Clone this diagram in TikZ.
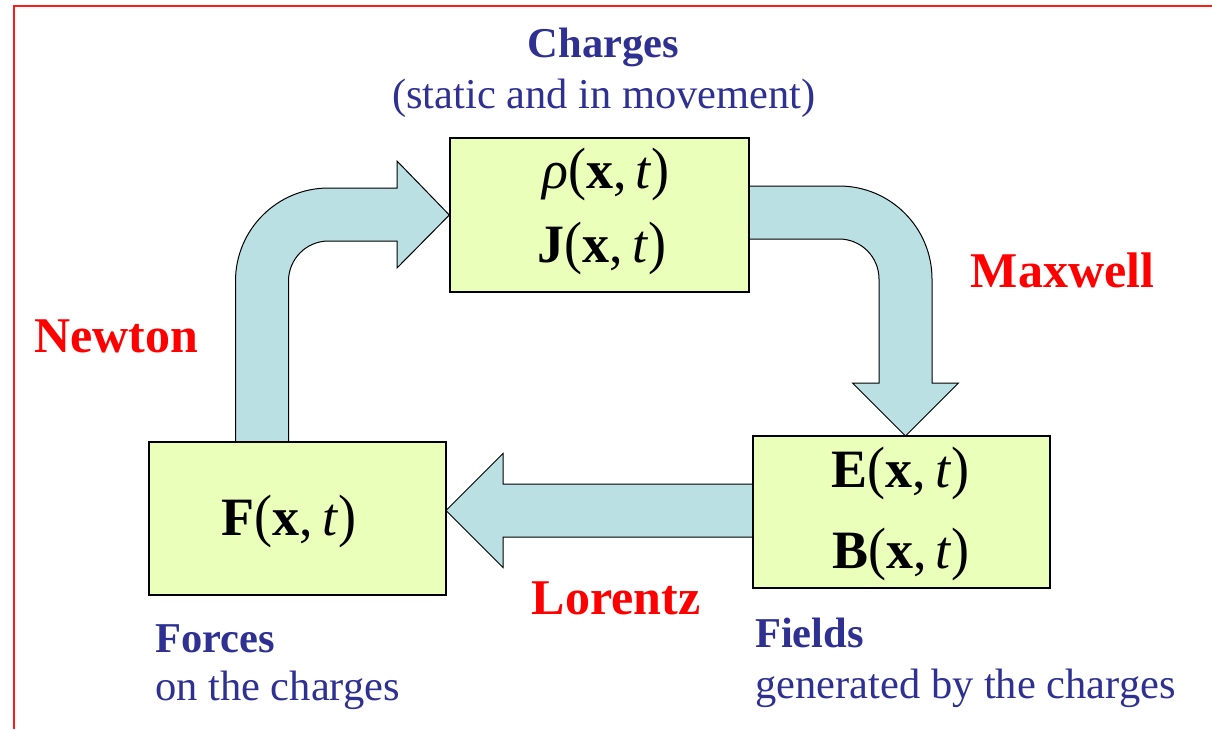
\documentclass[tikz,border=0pt]{standalone}
\usepackage{fontspec}
\setmainfont{Liberation Serif}
\definecolor{boxfill}{HTML}{EAFFBA}
\definecolor{arrowfill}{HTML}{BBE0E3}
\definecolor{navy}{HTML}{2E3192}
\definecolor{framered}{HTML}{FF1A1A}
\newcommand{\mathbig}{\fontsize{54}{60}\selectfont}
\newcommand{\bigparen}[1]{\scalebox{1}[1.08]{#1}}
\newcommand{\vecb}[1]{\textbf{#1}\bigparen{(}\textbf{x},\hspace{0.17em}\textit{t}\bigparen{)}}
\begin{document}
\begin{tikzpicture}[x=1pt,y=-1pt,
  box/.style={draw=black, line width=1.3pt, fill=boxfill, inner sep=0pt},
  blockarrow/.style={draw=black, line width=1pt, fill=arrowfill, line join=miter},
  redlabel/.style={text=red, font=\fontsize{50}{56}\selectfont\bfseries, inner sep=0pt, anchor=base},
  navytext/.style={text=navy, font=\fontsize{42.5}{48}\selectfont, inner sep=0pt},
  navybold/.style={text=navy, font=\fontsize{42.5}{48}\selectfont\bfseries, inner sep=0pt},
  mathtext/.style={font=\mathbig, inner sep=0pt, anchor=base}]
\useasboundingbox (0,0) rectangle (1212,729);
\fill[white] (0,0) rectangle (1212,729);
% frame
\draw[framered, line width=2pt] (1212,6) -- (13.5,6) -- (13.5,729);

% boxes
\node[box, minimum width=299pt, minimum height=154pt] (Q) at (599.5,215) {};
\node[box, minimum width=297pt, minimum height=153pt] (F) at (297.5,518.5) {};
\node[box, minimum width=297pt, minimum height=152pt] (EB) at (901.5,512) {};

% Newton arrow (from F up and right into Q)
\draw[blockarrow] (235.5,442) -- (235.5,281)
  .. controls (235.5,229.6) and (277.1,188) .. (328.5,188)
  -- (397,188) -- (397,161) -- (Q.west) -- (397,268) -- (397,241)
  -- (328.5,241) .. controls (306.4,241) and (288.5,258.9) .. (288.5,281)
  -- (288.5,442) -- cycle;

% Maxwell arrow (from Q right and down into EB)
\draw[blockarrow] (749,186) -- (839,186)
  .. controls (890.4,186) and (932,227.6) .. (932,279)
  -- (932,383) -- (958.5,383) -- (905.5,436) -- (852.5,383) -- (879,383)
  -- (879,279) .. controls (879,256.9) and (861.1,239) .. (839,239)
  -- (749,239) -- cycle;

% Lorentz arrow (from EB left into F)
\draw[blockarrow] (753,484) -- (503,484) -- (503,453.5) -- (446,510.5)
  -- (503,567.5) -- (503,537) -- (753,537) -- cycle;

% redraw box outlines on top
\draw[line width=1.3pt] (Q.north west) rectangle (Q.south east);
\draw[line width=1.3pt] (F.north west) rectangle (F.south east);
\draw[line width=1.3pt] (EB.north west) rectangle (EB.south east);

% box contents
\node[mathtext] (rho) at (606,188) {\textit{ρ}\bigparen{(}\textbf{x},\hspace{0.17em}\textit{t}\bigparen{)}};
\node[mathtext] (J) at (602,262) {\vecb{J}};
\node[mathtext] (Fx) at (289,535) {\vecb{F}};
\node[mathtext] (E) at (900.5,487) {\vecb{E}};
\node[mathtext] (B) at (901,568) {\vecb{B}};

% labels
\node[navybold, anchor=base] (charges) at (603.5,57) {Charges};
\node[navytext, anchor=base] (static) at (604,108) {(static and in movement)};
\node[navybold, anchor=base west] (forces) at (155,652) {Forces};
\node[navytext, anchor=base west] (onthe) at (155,700) {on the charges};
\node[navybold, anchor=base west] (fields) at (755,647) {Fields};
\node[navytext, anchor=base west] (gen) at (755,698) {generated by the charges};

\node[redlabel] (maxwell) at (1062.5,287) {Maxwell};
\node[redlabel] (newton) at (116.5,352) {Newton};
\node[redlabel] (lorentz) at (616,614) {Lorentz};
\end{tikzpicture}
\end{document}
